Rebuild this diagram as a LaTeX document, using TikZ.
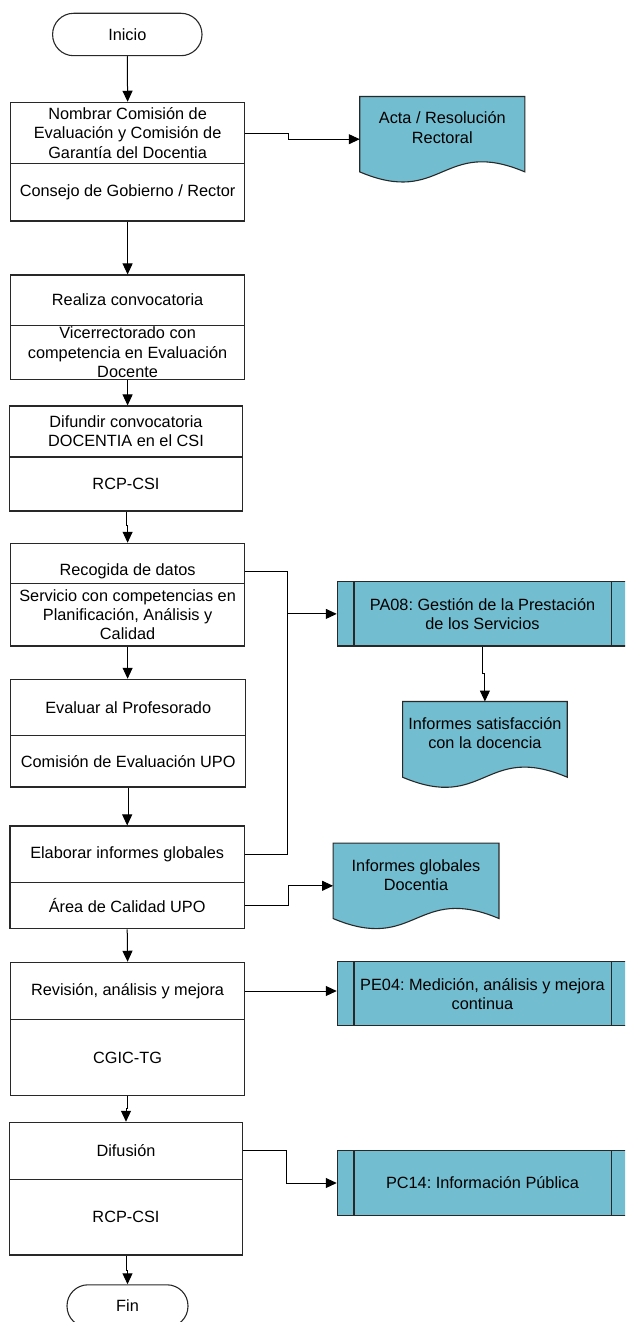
\documentclass[tikz,border=0pt]{standalone}
\usepackage{fontspec}
\setmainfont{Liberation Sans}
\usetikzlibrary{arrows.meta}
\definecolor{tealf}{RGB}{114,189,208}
\definecolor{linec}{RGB}{40,40,40}
\frenchspacing
\tikzset{
  base/.style={font=\fontsize{16.3}{19.2}\selectfont\frenchspacing, inner sep=0pt, align=center},
  part/.style={base, rectangle, draw=linec, line width=1.1pt},
  term/.style={base, rectangle, draw=linec, line width=1.1pt, rounded corners=21pt, minimum height=42.4pt},
  pproc/.style={base, rectangle, draw=linec, fill=tealf, line width=1.1pt, minimum width=290.4pt, minimum height=64.2pt},
  pline/.style={draw=linec, line width=1.1pt},
  docshape/.style={rectangle, inner sep=0pt, draw=none},
  docline/.style={draw=linec, fill=tealf, line width=1.1pt},
  conn/.style={draw=black, line width=1pt},
  arr/.style={conn, -{Triangle[length=11pt,width=10pt]}}
}
\begin{document}
\begin{tikzpicture}[x=1pt,y=-1pt]
\useasboundingbox (0,0) rectangle (625,1322);
\clip (0,0) rectangle (625,1322);

% terminals
\node[term, minimum width=149.4pt] (ini) at (127.3,34.5) {Inicio};
\node[term, minimum width=121pt] (fin) at (127.5,1306) {Fin};

% process boxes (upper / lower parts)
\node[part, minimum width=233.6pt, minimum height=61.4pt] (n1) at (127.6,133) {Nombrar Comisión de\\Evaluación y Comisión de\\Garantía del Docentia};
\node[part, minimum width=233.6pt, minimum height=57.3pt] (n1b) at (127.6,192.35) {Consejo de Gobierno / Rector};

\node[part, minimum width=233.6pt, minimum height=50.3pt] (n2) at (127.6,300.15) {Realiza convocatoria};
\node[part, minimum width=233.6pt, minimum height=54pt] (n2b) at (127.6,352.3) {Vicerrectorado con\\competencia en Evaluación\\Docente};

\node[part, minimum width=233.6pt, minimum height=51pt] (n3) at (126,431.5) {Difundir convocatoria\\DOCENTIA en el CSI};
\node[part, minimum width=233.6pt, minimum height=54pt] (n3b) at (126,484) {RCP-CSI};

\node[part, minimum width=233.6pt, minimum height=40pt] (n4) at (127.6,563.3) {\raisebox{-8pt}[\height][\depth]{Recogida de datos}};
\node[part, minimum width=233.6pt, minimum height=62.7pt] (n4b) at (127.6,614.65) {Servicio con competencias en\\Planificación, Análisis y\\Calidad};

\node[part, minimum width=234.8pt, minimum height=56pt] (n5) at (128.2,707.3) {Evaluar al Profesorado};
\node[part, minimum width=234.8pt, minimum height=51.7pt] (n5b) at (128.2,761.15) {Comisión de Evaluación UPO};

\node[part, minimum width=234.4pt, minimum height=56.7pt] (n6) at (127.2,854.35) {Elaborar informes globales};
\node[part, minimum width=234.4pt, minimum height=46pt] (n6b) at (127.2,905.7) {Área de Calidad UPO};

\node[part, minimum width=233.6pt, minimum height=57.4pt] (n7) at (127.6,991) {Revisión, análisis y mejora};
\node[part, minimum width=233.6pt, minimum height=75.6pt] (n7b) at (127.6,1057.5) {CGIC-TG};

\node[part, minimum width=233.6pt, minimum height=57pt] (n8) at (126,1150.8) {Difusión};
\node[part, minimum width=233.6pt, minimum height=75.7pt] (n8b) at (126,1217.15) {RCP-CSI};

% predefined processes
\node[pproc] (pa08) at (482.5,613.9) {PA08: Gestión de la Prestación\\de los Servicios};
\node[pproc] (pe04) at (482.5,993.7) {PE04: Medición, análisis y mejora\\continua};
\node[pproc] (pc14) at (482.5,1183) {PC14: Información Pública};
\foreach \p in {pa08,pe04,pc14}{
  \draw[pline] ([xshift=17.2pt]\p.north west) -- ([xshift=17.2pt]\p.south west);
  \draw[pline] ([xshift=-17.2pt]\p.north east) -- ([xshift=-17.2pt]\p.south east);
}

% documents
\node[docshape, minimum width=164.7pt, minimum height=85pt] (acta) at (442.3,139.2) {};
\draw[docline] (acta.north west) -- (acta.north east) -- ([yshift=10pt]acta.south east)
  .. controls ([yshift=45pt]acta.south) and ([yshift=-25pt]acta.south) .. ([yshift=10pt]acta.south west) -- cycle;
\node[base] (actat) at ([yshift=11.7pt]acta.center) {Acta / Resolución\\Rectoral};

\node[docshape, minimum width=164.3pt, minimum height=85.3pt] (infsat) at (484.9,744.35) {};
\draw[docline] (infsat.north west) -- (infsat.north east) -- ([yshift=10pt]infsat.south east)
  .. controls ([yshift=45pt]infsat.south) and ([yshift=-25pt]infsat.south) .. ([yshift=10pt]infsat.south west) -- cycle;
\node[base] (infsatt) at ([yshift=11.5pt]infsat.center) {Informes satisfacción\\con la docencia};

\node[docshape, minimum width=165.5pt, minimum height=85pt] (infglob) at (416,885.8) {};
\draw[docline] (infglob.north west) -- (infglob.north east) -- ([yshift=10pt]infglob.south east)
  .. controls ([yshift=45pt]infglob.south) and ([yshift=-25pt]infglob.south) .. ([yshift=10pt]infglob.south west) -- cycle;
\node[base] (infglobt) at ([yshift=10.8pt]infglob.center) {Informes globales\\Docentia};

% connectors
\draw[arr] (ini.south) -- (n1.north);
\draw[arr] (n1.east) -- ++(43.6,0) |- (acta.west);
\draw[arr] (n1b.south) -- (n2.north);
\draw[arr] (n2b.south) -- (n2b.south |- n3.north);
\draw[arr] (n3b.south) -- ++(0,14) -| (n4.north);
\coordinate (bus) at ([xshift=-49.3pt]pa08.west);
\draw[conn] ([yshift=-8.4pt]n4.east) -| (bus);
\draw[conn] (n6.east) -| (bus);
\draw[arr] (bus) -- (pa08.west);
\draw[arr] (pa08.south) -- ++(0,26.7) -| (infsat.north);
\draw[arr] (n4b.south) -- (n4b.south |- n5.north);
\draw[arr] (n5b.south) -- ++(0,28) -| (n6.north);
\draw[arr] (n6b.east) -- ++(43.6,0) |- (infglob.west);
\draw[arr] (n6b.south) -- (n7.north);
\draw[arr] (n7.east) -- (n7.east -| pe04.west);
\draw[arr] (n7b.south) -- ++(0,13) -| (n8.north);
\draw[arr] (n8.east) -- ++(43.5,0) |- (pc14.west);
\draw[arr] (n8b.south) -- ++(0,15) -| (fin.north);
\end{tikzpicture}
\end{document}
